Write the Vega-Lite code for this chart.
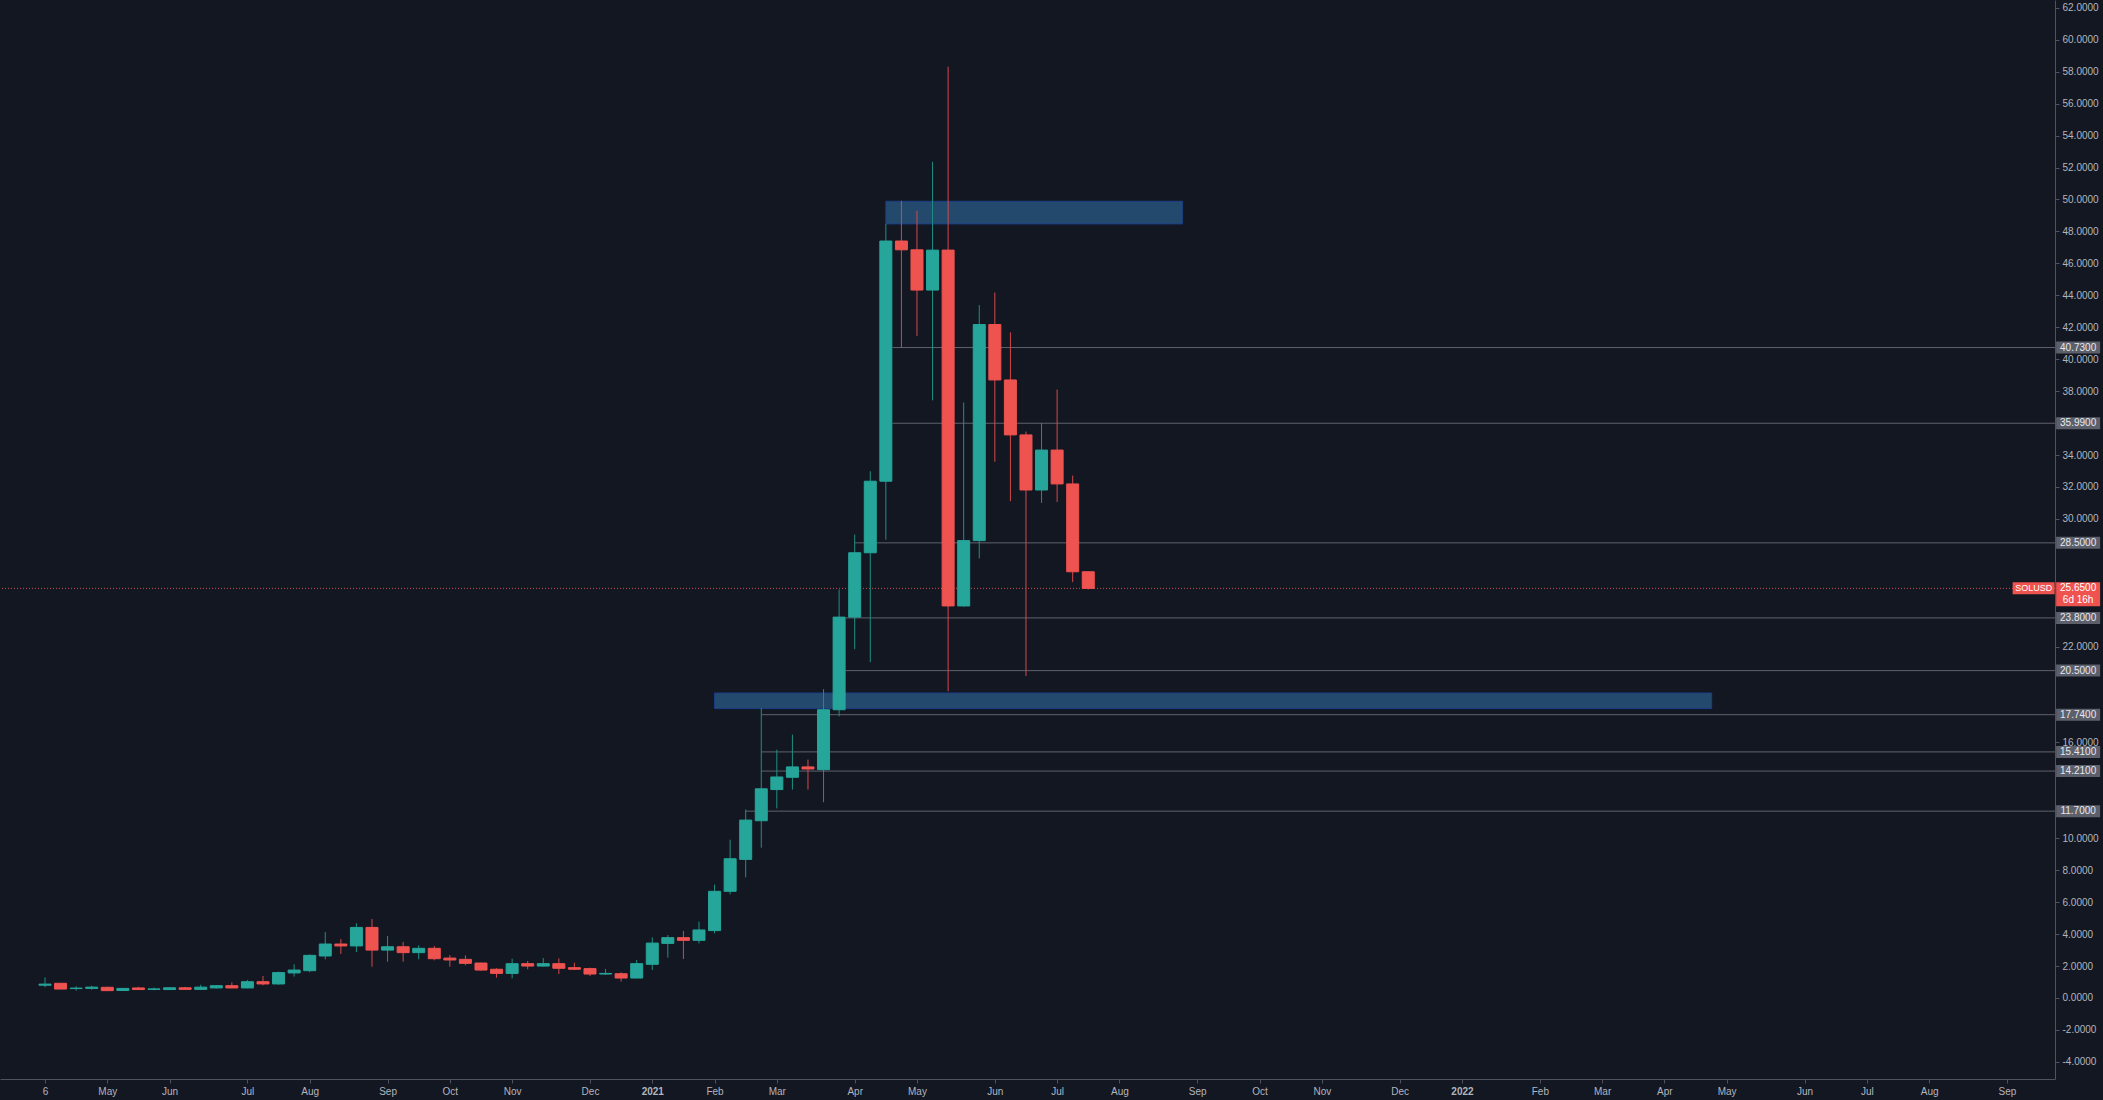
{
  "$schema": "https://vega.github.io/schema/vega-lite/v6.json",
  "width": 2055,
  "height": 1079,
  "autosize": {"type": "none"},
  "padding": {"left": 0, "top": 0, "right": 48, "bottom": 21},
  "background": "#131722",
  "config": {
    "view": {"stroke": null},
    "font": "Liberation Sans, Arial, sans-serif",
    "axis": {"grid": false, "title": null, "labelOverlap": false, "labelFlush": false, "labelBound": false},
    "axisY": {"labelOverlap": false},
    "axisX": {"labelOverlap": false}
  },
  "datasets": {
    "candles": [
      {"d": "2020-04-06", "o": 0.80, "h": 1.29, "l": 0.67, "c": 0.87},
      {"d": "2020-04-13", "o": 0.92, "h": 0.93, "l": 0.55, "c": 0.56},
      {"d": "2020-04-20", "o": 0.59, "h": 0.73, "l": 0.46, "c": 0.62},
      {"d": "2020-04-27", "o": 0.60, "h": 0.77, "l": 0.52, "c": 0.68},
      {"d": "2020-05-04", "o": 0.67, "h": 0.71, "l": 0.45, "c": 0.46},
      {"d": "2020-05-11", "o": 0.47, "h": 0.62, "l": 0.45, "c": 0.60},
      {"d": "2020-05-18", "o": 0.63, "h": 0.70, "l": 0.52, "c": 0.53},
      {"d": "2020-05-25", "o": 0.54, "h": 0.65, "l": 0.48, "c": 0.57},
      {"d": "2020-06-01", "o": 0.53, "h": 0.69, "l": 0.52, "c": 0.64},
      {"d": "2020-06-08", "o": 0.64, "h": 0.70, "l": 0.52, "c": 0.54},
      {"d": "2020-06-15", "o": 0.54, "h": 0.83, "l": 0.52, "c": 0.68},
      {"d": "2020-06-22", "o": 0.63, "h": 0.81, "l": 0.60, "c": 0.77},
      {"d": "2020-06-29", "o": 0.77, "h": 0.98, "l": 0.61, "c": 0.63},
      {"d": "2020-07-06", "o": 0.63, "h": 1.13, "l": 0.60, "c": 1.02},
      {"d": "2020-07-13", "o": 1.02, "h": 1.38, "l": 0.79, "c": 0.88},
      {"d": "2020-07-20", "o": 0.88, "h": 1.65, "l": 0.83, "c": 1.59},
      {"d": "2020-07-27", "o": 1.57, "h": 2.11, "l": 1.34, "c": 1.75},
      {"d": "2020-08-03", "o": 1.71, "h": 2.73, "l": 1.61, "c": 2.67},
      {"d": "2020-08-10", "o": 2.63, "h": 4.13, "l": 2.42, "c": 3.38},
      {"d": "2020-08-17", "o": 3.38, "h": 3.69, "l": 2.76, "c": 3.26},
      {"d": "2020-08-24", "o": 3.26, "h": 4.68, "l": 2.88, "c": 4.42},
      {"d": "2020-08-31", "o": 4.42, "h": 4.95, "l": 1.96, "c": 3.00},
      {"d": "2020-09-07", "o": 3.00, "h": 3.88, "l": 2.27, "c": 3.21},
      {"d": "2020-09-14", "o": 3.21, "h": 3.51, "l": 2.27, "c": 2.84},
      {"d": "2020-09-21", "o": 2.84, "h": 3.30, "l": 2.42, "c": 3.11},
      {"d": "2020-09-28", "o": 3.11, "h": 3.26, "l": 2.36, "c": 2.46},
      {"d": "2020-10-05", "o": 2.50, "h": 2.69, "l": 1.96, "c": 2.38},
      {"d": "2020-10-12", "o": 2.42, "h": 2.67, "l": 2.05, "c": 2.17},
      {"d": "2020-10-19", "o": 2.19, "h": 2.21, "l": 1.71, "c": 1.75},
      {"d": "2020-10-26", "o": 1.80, "h": 1.86, "l": 1.27, "c": 1.54},
      {"d": "2020-11-02", "o": 1.54, "h": 2.46, "l": 1.23, "c": 2.15},
      {"d": "2020-11-09", "o": 2.15, "h": 2.32, "l": 1.80, "c": 2.00},
      {"d": "2020-11-16", "o": 2.00, "h": 2.50, "l": 1.96, "c": 2.15},
      {"d": "2020-11-23", "o": 2.15, "h": 2.48, "l": 1.50, "c": 1.86},
      {"d": "2020-11-30", "o": 1.90, "h": 2.21, "l": 1.75, "c": 1.80},
      {"d": "2020-12-07", "o": 1.84, "h": 1.90, "l": 1.38, "c": 1.50},
      {"d": "2020-12-14", "o": 1.50, "h": 1.82, "l": 1.44, "c": 1.54},
      {"d": "2020-12-21", "o": 1.52, "h": 1.61, "l": 1.02, "c": 1.25},
      {"d": "2020-12-28", "o": 1.25, "h": 2.38, "l": 1.23, "c": 2.15},
      {"d": "2021-01-04", "o": 2.11, "h": 3.80, "l": 1.75, "c": 3.44},
      {"d": "2021-01-11", "o": 3.42, "h": 3.94, "l": 2.53, "c": 3.78},
      {"d": "2021-01-18", "o": 3.78, "h": 4.20, "l": 2.44, "c": 3.61},
      {"d": "2021-01-25", "o": 3.61, "h": 4.78, "l": 3.42, "c": 4.26},
      {"d": "2021-02-01", "o": 4.22, "h": 7.10, "l": 4.05, "c": 6.68},
      {"d": "2021-02-08", "o": 6.68, "h": 9.91, "l": 6.49, "c": 8.72},
      {"d": "2021-02-15", "o": 8.68, "h": 11.80, "l": 7.55, "c": 11.14},
      {"d": "2021-02-22", "o": 11.10, "h": 18.16, "l": 9.41, "c": 13.10},
      {"d": "2021-03-01", "o": 13.05, "h": 15.55, "l": 11.87, "c": 13.84},
      {"d": "2021-03-08", "o": 13.82, "h": 16.49, "l": 13.05, "c": 14.47},
      {"d": "2021-03-15", "o": 14.47, "h": 14.93, "l": 13.05, "c": 14.34},
      {"d": "2021-03-22", "o": 14.30, "h": 19.34, "l": 12.26, "c": 18.05},
      {"d": "2021-03-29", "o": 18.05, "h": 25.58, "l": 17.64, "c": 23.85},
      {"d": "2021-04-05", "o": 23.85, "h": 29.02, "l": 21.84, "c": 27.88},
      {"d": "2021-04-12", "o": 27.88, "h": 32.98, "l": 21.03, "c": 32.36},
      {"d": "2021-04-19", "o": 32.36, "h": 48.48, "l": 28.70, "c": 47.40},
      {"d": "2021-04-26", "o": 47.40, "h": 49.92, "l": 40.73, "c": 46.85},
      {"d": "2021-05-03", "o": 46.85, "h": 49.29, "l": 41.46, "c": 44.33},
      {"d": "2021-05-10", "o": 44.33, "h": 52.36, "l": 37.42, "c": 46.83},
      {"d": "2021-05-17", "o": 46.83, "h": 58.32, "l": 19.21, "c": 24.55},
      {"d": "2021-05-24", "o": 24.55, "h": 37.29, "l": 24.50, "c": 28.64},
      {"d": "2021-05-31", "o": 28.64, "h": 43.39, "l": 27.53, "c": 42.17},
      {"d": "2021-06-07", "o": 42.17, "h": 44.17, "l": 33.58, "c": 38.70},
      {"d": "2021-06-14", "o": 38.70, "h": 41.68, "l": 31.11, "c": 35.26},
      {"d": "2021-06-21", "o": 35.26, "h": 35.47, "l": 20.16, "c": 31.81},
      {"d": "2021-06-28", "o": 31.81, "h": 36.01, "l": 31.00, "c": 34.31},
      {"d": "2021-07-05", "o": 34.31, "h": 38.10, "l": 31.06, "c": 32.19},
      {"d": "2021-07-12", "o": 32.19, "h": 32.71, "l": 26.04, "c": 26.69},
      {"d": "2021-07-19", "o": 26.69, "h": 26.69, "l": 25.58, "c": 25.65}
    ],
    "levels": [
      {"p": 40.73, "start": "2021-04-22", "label": "40.7300"},
      {"p": 35.99, "start": "2021-04-22", "label": "35.9900"},
      {"p": 28.5, "start": "2021-04-05", "label": "28.5000"},
      {"p": 23.8, "start": "2021-04-01", "label": "23.8000"},
      {"p": 20.5, "start": "2021-04-01", "label": "20.5000"},
      {"p": 17.74, "start": "2021-02-22", "label": "17.7400"},
      {"p": 15.41, "start": "2021-02-22", "label": "15.4100"},
      {"p": 14.21, "start": "2021-02-22", "label": "14.2100"},
      {"p": 11.7, "start": "2021-02-15", "label": "11.7000"}
    ],
    "zones": [
      {"x0": "2021-04-19", "x1": "2021-08-30T10:00:00Z", "lo": 48.47, "hi": 49.89},
      {"x0": "2021-02-01", "x1": "2022-04-25T06:00:00Z", "lo": 18.12, "hi": 19.10}
    ],
    "last": [
      {"p": 25.65, "symbol": "SOLUSD", "label": "25.6500", "timer": "6d 16h"}
    ]
  },
  "layer": [
    {
      "data": {"name": "candles"},
      "mark": {"type": "rule", "strokeWidth": 1, "opacity": 0},
      "encoding": {
        "x": {
          "field": "d", "type": "temporal", "title": null,
          "scale": {"type": "utc", "padding": 0, "domain": [{"year": 2020, "month": 3, "date": 16, "hours": 18, "minutes": 29, "utc": true}, {"year": 2022, "month": 9, "date": 26, "hours": 14, "minutes": 24, "utc": true}]},
          "axis": {
            "orient": "bottom", "grid": false, "title": null,
            "values": [
              {"year": 2020, "month": 4, "date": 6, "utc": true},
              {"year": 2020, "month": 5, "date": 4, "utc": true},
              {"year": 2020, "month": 6, "date": 1, "utc": true},
              {"year": 2020, "month": 7, "date": 6, "utc": true},
              {"year": 2020, "month": 8, "date": 3, "utc": true},
              {"year": 2020, "month": 9, "date": 7, "utc": true},
              {"year": 2020, "month": 10, "date": 5, "utc": true},
              {"year": 2020, "month": 11, "date": 2, "utc": true},
              {"year": 2020, "month": 12, "date": 7, "utc": true},
              {"year": 2021, "month": 1, "date": 4, "utc": true},
              {"year": 2021, "month": 2, "date": 1, "utc": true},
              {"year": 2021, "month": 3, "date": 1, "utc": true},
              {"year": 2021, "month": 4, "date": 5, "utc": true},
              {"year": 2021, "month": 5, "date": 3, "utc": true},
              {"year": 2021, "month": 6, "date": 7, "utc": true},
              {"year": 2021, "month": 7, "date": 5, "utc": true},
              {"year": 2021, "month": 8, "date": 2, "utc": true},
              {"year": 2021, "month": 9, "date": 6, "utc": true},
              {"year": 2021, "month": 10, "date": 4, "utc": true},
              {"year": 2021, "month": 11, "date": 1, "utc": true},
              {"year": 2021, "month": 12, "date": 6, "utc": true},
              {"year": 2022, "month": 1, "date": 3, "utc": true},
              {"year": 2022, "month": 2, "date": 7, "utc": true},
              {"year": 2022, "month": 3, "date": 7, "utc": true},
              {"year": 2022, "month": 4, "date": 4, "utc": true},
              {"year": 2022, "month": 5, "date": 2, "utc": true},
              {"year": 2022, "month": 6, "date": 6, "utc": true},
              {"year": 2022, "month": 7, "date": 4, "utc": true},
              {"year": 2022, "month": 8, "date": 1, "utc": true},
              {"year": 2022, "month": 9, "date": 5, "utc": true}
            ],
            "labelExpr": "utcmonth(datum.value) == 0 ? utcFormat(datum.value, '%Y') : ((utcyear(datum.value) == 2020 && utcmonth(datum.value) == 3) ? '6' : utcFormat(datum.value, '%b'))",
            "labelFontWeight": {"condition": {"test": "utcmonth(datum.value) == 0", "value": "bold"}, "value": "normal"},
            "domainColor": "#50535e", "tickColor": "#50535e", "tickSize": 4,
            "labelColor": "#b2b5be", "labelFontSize": 10, "labelPadding": 3,
            "labelFlush": false, "labelOverlap": false
          }
        },
        "y": {
          "field": "l", "type": "quantitative", "title": null,
          "scale": {"padding": 0, "domain": [-5.072, 62.492], "nice": false, "zero": false},
          "axis": {
            "orient": "right", "grid": false, "title": null,
            "values": [-4, -2, 0, 2, 4, 6, 8, 10, 16, 22, 30, 32, 34, 38, 40, 42, 44, 46, 48, 50, 52, 54, 56, 58, 60, 62],
            "format": ".4f",
            "labelExpr": "replace(datum.label, '\u2212', '-')",
            "domainColor": "#50535e", "tickColor": "#50535e", "tickSize": 4,
            "labelColor": "#b2b5be", "labelFontSize": 10, "labelPadding": 3,
            "labelAlign": "left", "labelBaseline": "middle", "labelFlush": false, "labelOverlap": false, "labelBound": false
          }
        },
        "y2": {"field": "h"}
      }
    },
    {
      "data": {"name": "zones"},
      "mark": {"type": "rect", "fill": "#23496d", "stroke": "#1c3d86", "strokeWidth": 1},
      "encoding": {
        "x": {"field": "x0", "type": "temporal", "title": null, "scale": {"type": "utc", "padding": 0, "domain": [{"year": 2020, "month": 3, "date": 16, "hours": 18, "minutes": 29, "utc": true}, {"year": 2022, "month": 9, "date": 26, "hours": 14, "minutes": 24, "utc": true}]}},
        "x2": {"field": "x1"},
        "y": {"field": "lo", "type": "quantitative", "title": null, "scale": {"padding": 0, "domain": [-5.072, 62.492], "nice": false, "zero": false}},
        "y2": {"field": "hi"}
      }
    },
    {
      "data": {"name": "levels"},
      "mark": {"type": "rule", "stroke": "#5f626c", "strokeWidth": 1},
      "encoding": {
        "x": {"field": "start", "type": "temporal", "title": null, "scale": {"type": "utc", "padding": 0, "domain": [{"year": 2020, "month": 3, "date": 16, "hours": 18, "minutes": 29, "utc": true}, {"year": 2022, "month": 9, "date": 26, "hours": 14, "minutes": 24, "utc": true}]}},
        "x2": {"datum": {"year": 2022, "month": 9, "date": 26, "hours": 14, "minutes": 24, "utc": true}},
        "y": {"field": "p", "type": "quantitative", "title": null, "scale": {"padding": 0, "domain": [-5.072, 62.492], "nice": false, "zero": false}}
      }
    },
    {
      "data": {"name": "last"},
      "mark": {"type": "rule", "stroke": "#ef5350", "strokeWidth": 1, "strokeDash": [1, 2], "opacity": 0.85},
      "encoding": {
        "y": {"field": "p", "type": "quantitative", "title": null, "scale": {"padding": 0, "domain": [-5.072, 62.492], "nice": false, "zero": false}}
      }
    },
    {
      "data": {"name": "candles"},
      "mark": {"type": "rule", "strokeWidth": 1},
      "encoding": {
        "x": {"field": "d", "type": "temporal", "title": null, "scale": {"type": "utc", "padding": 0, "domain": [{"year": 2020, "month": 3, "date": 16, "hours": 18, "minutes": 29, "utc": true}, {"year": 2022, "month": 9, "date": 26, "hours": 14, "minutes": 24, "utc": true}]}},
        "y": {"field": "l", "type": "quantitative", "title": null, "scale": {"padding": 0, "domain": [-5.072, 62.492], "nice": false, "zero": false}},
        "y2": {"field": "h"},
        "color": {"condition": {"test": "datum.c >= datum.o", "value": "#1f8f85"}, "value": "#d5484a"}
      }
    },
    {
      "data": {"name": "candles"},
      "mark": {"type": "bar", "width": 12, "strokeWidth": 1},
      "encoding": {
        "x": {"field": "d", "type": "temporal", "title": null, "scale": {"type": "utc", "padding": 0, "domain": [{"year": 2020, "month": 3, "date": 16, "hours": 18, "minutes": 29, "utc": true}, {"year": 2022, "month": 9, "date": 26, "hours": 14, "minutes": 24, "utc": true}]}},
        "y": {"field": "o", "type": "quantitative", "title": null, "scale": {"padding": 0, "domain": [-5.072, 62.492], "nice": false, "zero": false}},
        "y2": {"field": "c"},
        "fill": {"condition": {"test": "datum.c >= datum.o", "value": "#26a69a"}, "value": "#ef5350"},
        "stroke": {"condition": {"test": "datum.c >= datum.o", "value": "#26a69a"}, "value": "#ef5350"}
      }
    },
    {
      "data": {"name": "levels"},
      "mark": {"type": "rect", "width": 44, "height": 12, "fill": "#5d606b", "clip": false},
      "encoding": {
        "x": {"datum": {"year": 2022, "month": 10, "date": 7, "utc": true}, "type": "temporal", "title": null, "scale": {"type": "utc", "padding": 0, "domain": [{"year": 2020, "month": 3, "date": 16, "hours": 18, "minutes": 29, "utc": true}, {"year": 2022, "month": 9, "date": 26, "hours": 14, "minutes": 24, "utc": true}]}},
        "y": {"field": "p", "type": "quantitative", "title": null, "scale": {"padding": 0, "domain": [-5.072, 62.492], "nice": false, "zero": false}}
      }
    },
    {
      "data": {"name": "levels"},
      "mark": {"type": "text", "align": "center", "baseline": "middle", "fontSize": 10, "fill": "#e6e8ee", "clip": false},
      "encoding": {
        "x": {"datum": {"year": 2022, "month": 10, "date": 7, "utc": true}, "type": "temporal", "title": null, "scale": {"type": "utc", "padding": 0, "domain": [{"year": 2020, "month": 3, "date": 16, "hours": 18, "minutes": 29, "utc": true}, {"year": 2022, "month": 9, "date": 26, "hours": 14, "minutes": 24, "utc": true}]}},
        "y": {"field": "p", "type": "quantitative", "title": null, "scale": {"padding": 0, "domain": [-5.072, 62.492], "nice": false, "zero": false}},
        "text": {"field": "label"}
      }
    },
    {
      "data": {"name": "last"},
      "mark": {"type": "rect", "width": 44, "height": 24, "yOffset": 6, "fill": "#ef5350", "clip": false},
      "encoding": {
        "x": {"datum": {"year": 2022, "month": 10, "date": 7, "utc": true}, "type": "temporal", "title": null, "scale": {"type": "utc", "padding": 0, "domain": [{"year": 2020, "month": 3, "date": 16, "hours": 18, "minutes": 29, "utc": true}, {"year": 2022, "month": 9, "date": 26, "hours": 14, "minutes": 24, "utc": true}]}},
        "y": {"field": "p", "type": "quantitative", "title": null, "scale": {"padding": 0, "domain": [-5.072, 62.492], "nice": false, "zero": false}}
      }
    },
    {
      "data": {"name": "last"},
      "mark": {"type": "rect", "width": 42, "height": 12, "fill": "#ef5350", "clip": false},
      "encoding": {
        "x": {"datum": {"year": 2022, "month": 9, "date": 17, "hours": 0, "utc": true}, "type": "temporal", "title": null, "scale": {"type": "utc", "padding": 0, "domain": [{"year": 2020, "month": 3, "date": 16, "hours": 18, "minutes": 29, "utc": true}, {"year": 2022, "month": 9, "date": 26, "hours": 14, "minutes": 24, "utc": true}]}},
        "y": {"field": "p", "type": "quantitative", "title": null, "scale": {"padding": 0, "domain": [-5.072, 62.492], "nice": false, "zero": false}}
      }
    },
    {
      "data": {"name": "last"},
      "mark": {"type": "text", "align": "center", "baseline": "middle", "fontSize": 9, "fill": "#ffffff", "clip": false},
      "encoding": {
        "x": {"datum": {"year": 2022, "month": 9, "date": 17, "hours": 0, "utc": true}, "type": "temporal", "title": null, "scale": {"type": "utc", "padding": 0, "domain": [{"year": 2020, "month": 3, "date": 16, "hours": 18, "minutes": 29, "utc": true}, {"year": 2022, "month": 9, "date": 26, "hours": 14, "minutes": 24, "utc": true}]}},
        "y": {"field": "p", "type": "quantitative", "title": null, "scale": {"padding": 0, "domain": [-5.072, 62.492], "nice": false, "zero": false}},
        "text": {"field": "symbol"}
      }
    },
    {
      "data": {"name": "last"},
      "mark": {"type": "text", "align": "center", "baseline": "middle", "fontSize": 10, "fill": "#ffffff", "clip": false},
      "encoding": {
        "x": {"datum": {"year": 2022, "month": 10, "date": 7, "utc": true}, "type": "temporal", "title": null, "scale": {"type": "utc", "padding": 0, "domain": [{"year": 2020, "month": 3, "date": 16, "hours": 18, "minutes": 29, "utc": true}, {"year": 2022, "month": 9, "date": 26, "hours": 14, "minutes": 24, "utc": true}]}},
        "y": {"field": "p", "type": "quantitative", "title": null, "scale": {"padding": 0, "domain": [-5.072, 62.492], "nice": false, "zero": false}},
        "text": {"field": "label"}
      }
    },
    {
      "data": {"name": "last"},
      "mark": {"type": "text", "align": "center", "baseline": "middle", "fontSize": 10, "dy": 12, "fill": "#ffffff", "clip": false},
      "encoding": {
        "x": {"datum": {"year": 2022, "month": 10, "date": 7, "utc": true}, "type": "temporal", "title": null, "scale": {"type": "utc", "padding": 0, "domain": [{"year": 2020, "month": 3, "date": 16, "hours": 18, "minutes": 29, "utc": true}, {"year": 2022, "month": 9, "date": 26, "hours": 14, "minutes": 24, "utc": true}]}},
        "y": {"field": "p", "type": "quantitative", "title": null, "scale": {"padding": 0, "domain": [-5.072, 62.492], "nice": false, "zero": false}},
        "text": {"field": "timer"}
      }
    }
  ]
}
